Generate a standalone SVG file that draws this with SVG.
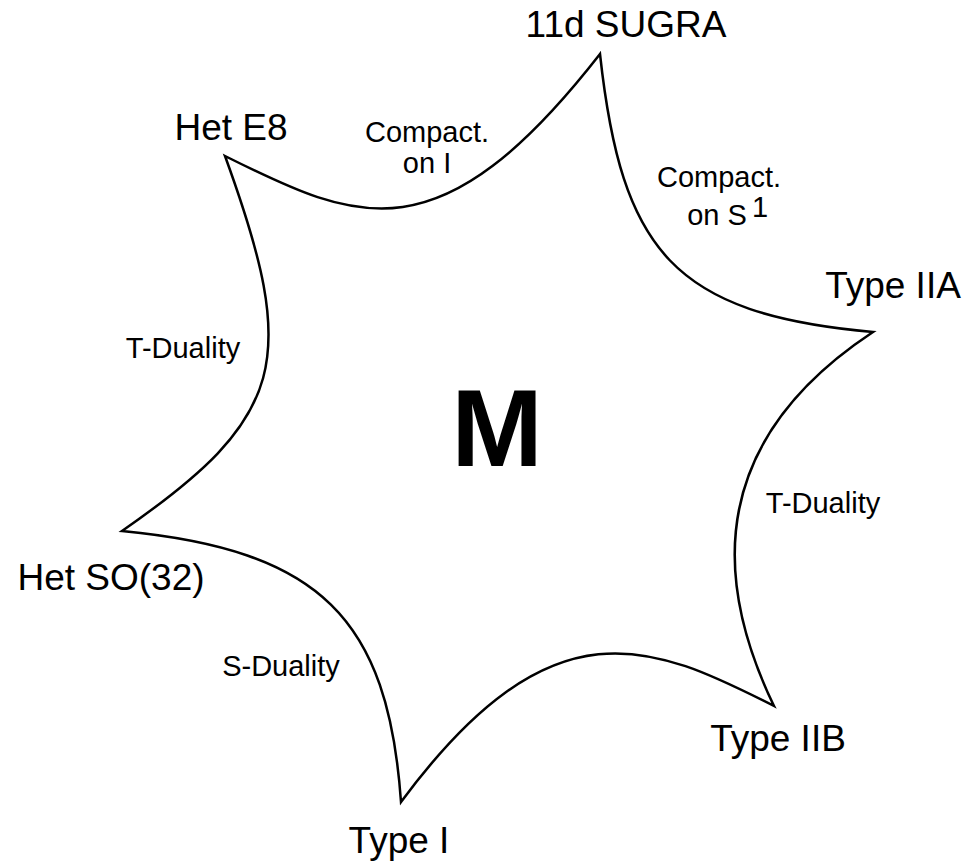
<svg xmlns="http://www.w3.org/2000/svg" width="969" height="864" viewBox="0 0 969 864">
<style>
.big{font-family:"Liberation Sans",Arial,sans-serif;font-size:37px;fill:#000;text-anchor:middle}
.small{font-family:"Liberation Sans",Arial,sans-serif;font-size:29px;fill:#000;text-anchor:middle}
.edge{fill:none;stroke:#000;stroke-width:2.5;stroke-linejoin:miter}
</style>
<rect width="969" height="864" fill="#fff"/>
<g id="connectors">
<path class="edge" d="M600,54 C621.6,252 674,314 873,332 C731.7,425.3 698.7,550 774,706 C652,644 552,598 401,802 C388,618 320,550 122,531 C286,417 300,362 225,156 C359,223 440,259 600,54 Z"/>
</g>
<g id="sugra"><text class="big" x="626" y="37">11d SUGRA</text></g>
<g id="iia"><text class="big" x="893" y="298">Type IIA</text></g>
<g id="iib"><text class="big" x="778" y="751">Type IIB</text></g>
<g id="typei"><text class="big" x="399" y="853">Type I</text></g>
<g id="hetso"><text class="big" x="111" y="590">Het SO(32)</text></g>
<g id="hete8"><text class="big" x="231" y="140">Het E8</text></g>
<g id="labels">
<text class="small" x="427" y="142">Compact.</text>
<text class="small" x="427" y="173">on I</text>
<text class="small" x="719" y="187">Compact.</text>
<text class="small" x="717" y="225">on S</text>
<text class="small" x="760" y="217" font-size="21">1</text>
<text class="small" x="183" y="358">T-Duality</text>
<text class="small" x="823" y="513">T-Duality</text>
<text class="small" x="281" y="676">S-Duality</text>
</g>
<g id="m"><text x="497" y="466" font-family="Liberation Sans,Arial,sans-serif" font-weight="bold" font-size="110" text-anchor="middle">M</text></g>
</svg>
